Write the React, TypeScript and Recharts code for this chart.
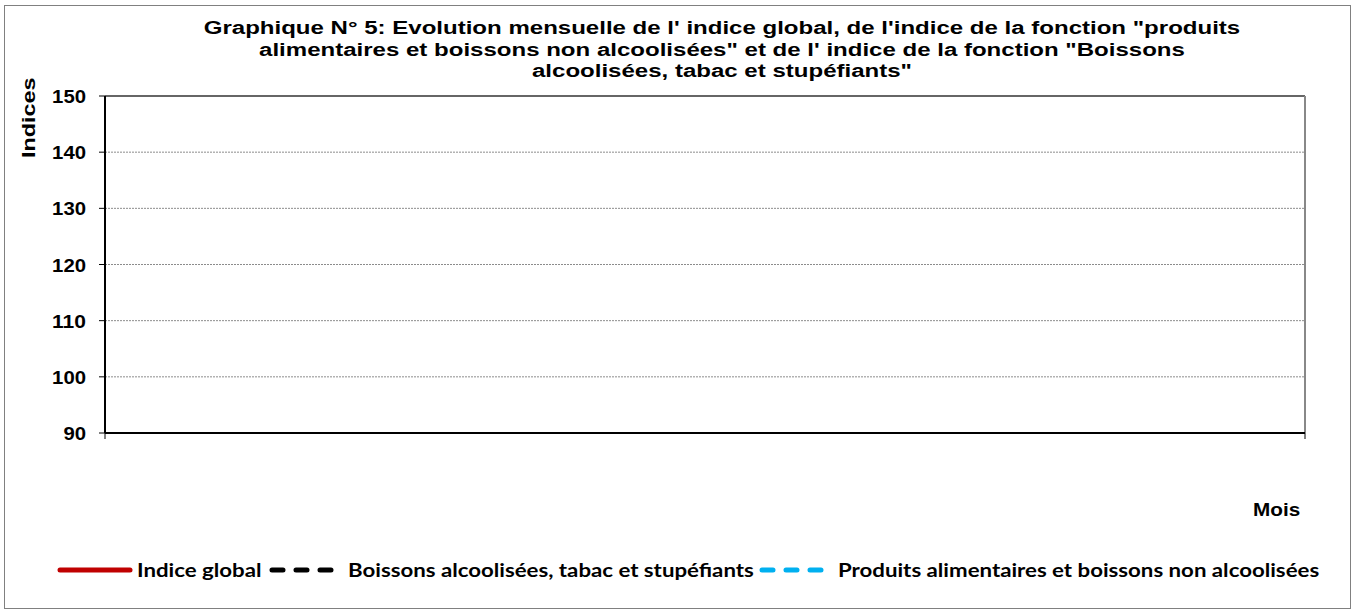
import { LineChart, Line, XAxis, YAxis, CartesianGrid, ReferenceLine } from 'recharts';

// Le graphique de référence ne contient aucune valeur tracée : une seule catégorie, valeurs vides
const mois: string[] = [''];
const indiceGlobal: (number | null)[] = [null];
const boissonsAlcoolisees: (number | null)[] = [null];
const produitsAlimentaires: (number | null)[] = [null];
const yTicks = [90, 100, 110, 120, 130, 140, 150];

const data = mois.map((m, i) => ({
  x: i,
  mois: m,
  global: indiceGlobal[i],
  boissons: boissonsAlcoolisees[i],
  produits: produitsAlimentaires[i],
}));

const series = [
  { key: 'global', name: 'Indice global', color: '#c00000', dash: undefined as string | undefined, lx: 60, tx: 137 },
  { key: 'boissons', name: 'Boissons alcoolisées, tabac et stupéfiants', color: '#000000', dash: '11 13', lx: 272, tx: 348 },
  { key: 'produits', name: 'Produits alimentaires et boissons non alcoolisées', color: '#00b0f0', dash: '11 13', lx: 762, tx: 838 },
];

const titleFont = '"Liberation Sans", Arial, sans-serif';
const legendFont = 'Lato, "Open Sans", sans-serif';

const renderYTick = (props: any) => {
  const { x, y, payload } = props;
  const label = String(payload.value);
  return (
    <text
      key={label}
      x={x}
      y={y}
      dy={7}
      textAnchor="end"
      fill="#000"
      fontSize={19}
      fontWeight={700}
      fontFamily="Liberation Sans, Arial, sans-serif"
      textLength={label.length * 11.3}
      lengthAdjust="spacingAndGlyphs"
    >
      {label}
    </text>
  );
};

function ChartLegend() {
  return (
    <>
      {series.map((s) => (
        <div key={s.key}>
          <svg width={76} height={10} style={{ position: 'absolute', left: s.lx - 3, top: 565 }}>
            <line x1={3} y1={5} x2={s.dash ? 66 : 73} y2={5} stroke={s.color} strokeWidth={5} strokeLinecap="round" strokeDasharray={s.dash} />
          </svg>
          <div style={{ position: 'absolute', left: s.tx, top: 558, transformOrigin: '0 50%', transform: 'scaleX(1.17)', whiteSpace: 'nowrap', fontFamily: legendFont, fontWeight: 700, fontSize: 19, color: '#000' }}>
            {s.name}
          </div>
        </div>
      ))}
    </>
  );
}

export default function App() {
  return (
    <div style={{ position: 'absolute', left: 0, top: 0, width: 1354, height: 612, background: '#fff' }}>
      <div style={{ position: 'absolute', left: 4, top: 5, width: 1345, height: 602, border: '1.5px solid #808080' }} />
      <div style={{ position: 'absolute', left: 45, top: 18, width: 1354, textAlign: 'center', transform: 'scaleX(1.335)', fontFamily: titleFont, fontWeight: 700, fontSize: 18, lineHeight: '21.5px', color: '#000', whiteSpace: 'nowrap' }}>
        Graphique N° 5: Evolution mensuelle de l' indice global, de l'indice de la fonction "produits<br />
        alimentaires et boissons non alcoolisées" et de l' indice de la fonction "Boissons<br />
        alcoolisées, tabac et stupéfiants"
      </div>
      <div style={{ position: 'absolute', left: 19, top: 158, transformOrigin: '0 0', transform: 'rotate(-90deg) scaleX(1.3)', fontFamily: titleFont, fontWeight: 700, fontSize: 18, color: '#000', whiteSpace: 'nowrap' }}>
        Indices
      </div>
      <div style={{ position: 'absolute', left: 1253, top: 500, transformOrigin: '0 50%', transform: 'scaleX(1.15)', fontFamily: titleFont, fontWeight: 700, fontSize: 18, color: '#000' }}>
        Mois
      </div>
      <div style={{ position: 'absolute', left: 0, top: 0 }}>
        <LineChart width={1354} height={612} data={data} margin={{ top: 96, right: 49, bottom: 149, left: 45 }}>
          <CartesianGrid horizontal vertical={false} stroke="#8c8c8c" strokeDasharray="2 1" />
          <XAxis
            dataKey="x"
            type="number"
            domain={[0, 1]}
            ticks={[0, 1]}
            height={30}
            axisLine={{ stroke: '#000', strokeWidth: 2 }}
            tickLine={{ stroke: '#000' }}
            tickSize={6}
            tickFormatter={() => ''}
          />
          <YAxis
            type="number"
            domain={[90, 150]}
            allowDataOverflow
            ticks={yTicks}
            width={60}
            interval={0}
            axisLine={{ stroke: '#000', strokeWidth: 2 }}
            tickLine={{ stroke: '#000' }}
            tickSize={6}
            tick={renderYTick}
            tickMargin={13}
          />
          <ReferenceLine y={150} stroke="#666" strokeWidth={2} />
          <ReferenceLine x={1} stroke="#888" strokeWidth={2} />
          {series.map((s) => (
            <Line
              key={s.key}
              dataKey={s.key}
              name={s.name}
              stroke={s.color}
              strokeWidth={3}
              strokeDasharray={s.dash}
              dot={false}
              isAnimationActive={false}
            />
          ))}
        </LineChart>
      </div>
      <ChartLegend />
    </div>
  );
}
